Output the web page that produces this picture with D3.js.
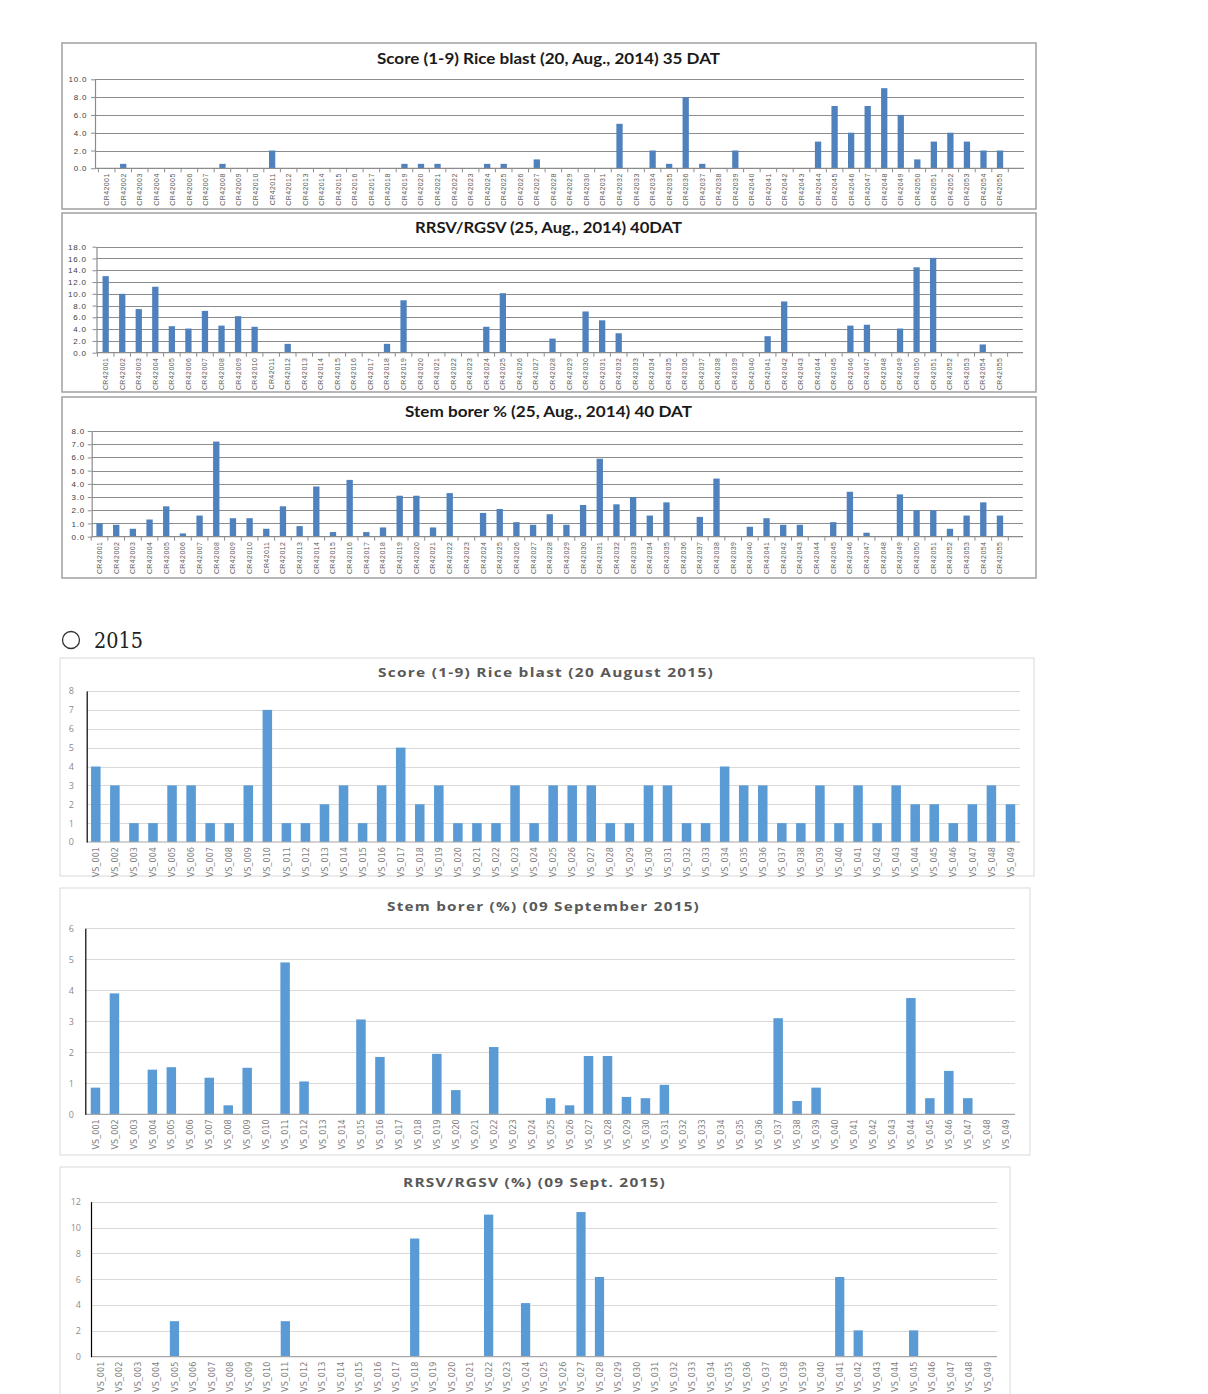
<!DOCTYPE html>
<html>
<head>
<meta charset="utf-8">
<script src="https://cdn.jsdelivr.net/npm/d3@7"></script>
<style>
  body { margin: 0; background: #fff; }
  svg { display: block; }
</style>
</head>
<body>
<script>
// ---- data: 2014 (CR42001..CR42055) ----
const cats2014 = [
  'CR42001','CR42002','CR42003','CR42004','CR42005','CR42006','CR42007','CR42008','CR42009','CR42010',
  'CR42011','CR42012','CR42013','CR42014','CR42015','CR42016','CR42017','CR42018','CR42019','CR42020',
  'CR42021','CR42022','CR42023','CR42024','CR42025','CR42026','CR42027','CR42028','CR42029','CR42030',
  'CR42031','CR42032','CR42033','CR42034','CR42035','CR42036','CR42037','CR42038','CR42039','CR42040',
  'CR42041','CR42042','CR42043','CR42044','CR42045','CR42046','CR42047','CR42048','CR42049','CR42050',
  'CR42051','CR42052','CR42053','CR42054','CR42055'
];
const blast2014 = [
  0, 0.5, 0, 0, 0, 0, 0, 0.5, 0, 0,
  2, 0, 0, 0, 0, 0, 0, 0, 0.5, 0.5,
  0.5, 0, 0, 0.5, 0.5, 0, 1, 0, 0, 0,
  0, 5, 0, 2, 0.5, 8, 0.5, 0, 2, 0,
  0, 0, 0, 3, 7, 4, 7, 9, 6, 1,
  3, 4, 3, 2, 2
];
const rrsv2014 = [
  13, 10, 7.4, 11.2, 4.5, 4.1, 7.1, 4.6, 6.2, 4.4,
  0, 1.5, 0, 0, 0, 0, 0, 1.5, 8.9, 0,
  0, 0, 0, 4.4, 10.1, 0, 0, 2.4, 0, 7.0,
  5.5, 3.3, 0, 0, 0, 0, 0, 0, 0, 0,
  2.8, 8.7, 0, 0, 0, 4.6, 4.75, 0, 4.1, 14.5,
  16.1, 0, 0, 1.4, 0
];
const borer2014 = [
  1.0, 0.9, 0.6, 1.3, 2.3, 0.25, 1.6, 7.2, 1.4, 1.4,
  0.6, 2.3, 0.8, 3.8, 0.35, 4.3, 0.35, 0.7, 3.1, 3.1,
  0.7, 3.3, 0, 1.8, 2.1, 1.1, 0.9, 1.7, 0.9, 2.4,
  5.9, 2.45, 3.0, 1.6, 2.6, 0, 1.5, 4.4, 0, 0.75,
  1.4, 0.9, 0.9, 0, 1.1, 3.4, 0.3, 0, 3.2, 2.0,
  2.0, 0.6, 1.6, 2.6, 1.6
];

// ---- data: 2015 (VS_001..VS_049) ----
const cats2015 = [
  'VS_001','VS_002','VS_003','VS_004','VS_005','VS_006','VS_007','VS_008','VS_009','VS_010',
  'VS_011','VS_012','VS_013','VS_014','VS_015','VS_016','VS_017','VS_018','VS_019','VS_020',
  'VS_021','VS_022','VS_023','VS_024','VS_025','VS_026','VS_027','VS_028','VS_029','VS_030',
  'VS_031','VS_032','VS_033','VS_034','VS_035','VS_036','VS_037','VS_038','VS_039','VS_040',
  'VS_041','VS_042','VS_043','VS_044','VS_045','VS_046','VS_047','VS_048','VS_049'
];
const blast2015 = [
  4, 3, 1, 1, 3, 3, 1, 1, 3, 7,
  1, 1, 2, 3, 1, 3, 5, 2, 3, 1,
  1, 1, 3, 1, 3, 3, 3, 1, 1, 3,
  3, 1, 1, 4, 3, 3, 1, 1, 3, 1,
  3, 1, 3, 2, 2, 1, 2, 3, 2
];
const borer2015 = [
  0.86, 3.9, 0, 1.44, 1.52, 0, 1.18, 0.29, 1.5, 0,
  4.9, 1.06, 0, 0, 3.06, 1.85, 0, 0, 1.95, 0.78,
  0, 2.17, 0, 0, 0.52, 0.29, 1.88, 1.88, 0.56, 0.52,
  0.95, 0, 0, 0, 0, 0, 3.1, 0.43, 0.86, 0,
  0, 0, 0, 3.75, 0.52, 1.4, 0.52, 0, 0
];
const rrsv2015 = [
  0, 0, 0, 0, 2.75, 0, 0, 0, 0, 0,
  2.75, 0, 0, 0, 0, 0, 0, 9.15, 0, 0,
  0, 11.0, 0, 4.15, 0, 0, 11.2, 6.17, 0, 0,
  0, 0, 0, 0, 0, 0, 0, 0, 0, 0,
  6.17, 2.04, 0, 0, 2.04, 0, 0, 0, 0
];

const svg = d3.select('body').append('svg')
  .attr('width', 1208)
  .attr('height', 1394);

// excel 2007 look for 2014, newer excel look for 2015
const style2014 = {
  bar: '#4f81bd', frame: '#a6a6a6', frameWidth: 1.6, grid: '#8c8c8c', base: '#8c8c8c',
  titleFont: 'Lato, "Open Sans", sans-serif', titleSize: 14.5, titleColor: '#1a1a1a', titleSpacing: 0,
  tickFont: '"Liberation Sans", Arial, sans-serif', tickSize: 8, tickColor: '#404040', tickSpacing: 0.8,
  xFont: '"Liberation Sans", Arial, sans-serif', xSize: 7, xColor: '#595959', xSpacing: 0.4,
  yAxisColor: '#8c8c8c', yTick: 4, pad: 0.62, catTicks: true
};
const style2015 = {
  bar: '#5b9bd5', frame: '#d9d9d9', frameWidth: 1, grid: '#d9d9d9', base: '#a6a6a6',
  titleFont: '"Open Sans", sans-serif', titleSize: 12.5, titleColor: '#595959', titleSpacing: 1,
  tickFont: '"Open Sans", sans-serif', tickSize: 9, tickColor: '#8c8c8c', tickSpacing: 0,
  xFont: '"Liberation Sans Narrow", "DejaVu Sans Condensed", sans-serif', xSize: 9, xColor: '#7f7f7f', xSpacing: 0,
  yAxisColor: '#000', yTick: 0, pad: 0.5, catTicks: false
};

const charts = [
  { cats: cats2014, values: blast2014, s: style2014,
    title: 'Score (1-9) Rice blast (20, Aug., 2014) 35 DAT', titleX: 548.5, titleY: 64, titleW: 343,
    box: [62, 43, 974, 166], x0: 98.4, x1: 1008.3, gridRight: 1024, axisX: 95,
    yBase: 168.3, yTop: 79.3, yMax: 10, yStep: 2, fmt: d3.format('.1f'), yLabelRight: 87.3 },
  { cats: cats2014, values: rrsv2014, s: style2014,
    title: 'RRSV/RGSV (25, Aug., 2014) 40DAT', titleX: 548.5, titleY: 233, titleW: 267,
    box: [62, 213, 974, 179], x0: 97.4, x1: 1007.6, gridRight: 1023, axisX: 96.5,
    yBase: 352.7, yTop: 246.7, yMax: 18, yStep: 2, fmt: d3.format('.1f'), yLabelRight: 86.7 },
  { cats: cats2014, values: borer2014, s: style2014,
    title: 'Stem borer % (25, Aug., 2014) 40 DAT', titleX: 548.5, titleY: 417, titleW: 287,
    box: [62, 397, 974, 181], x0: 91.2, x1: 1008.3, gridRight: 1023, axisX: 91.7,
    yBase: 536.7, yTop: 431, yMax: 8, yStep: 1, fmt: d3.format('.1f'), yLabelRight: 85 },
  { cats: cats2015, values: blast2015, s: style2015,
    title: 'Score (1-9) Rice blast (20 August 2015)', titleX: 546, titleY: 677, titleW: 336,
    box: [60, 658, 974, 218], x0: 86.3, x1: 1020, gridRight: 1020, axisX: 86.7,
    yBase: 842, yTop: 691, yMax: 8, yStep: 1, fmt: d3.format('d'), yLabelRight: 74 },
  { cats: cats2015, values: borer2015, s: style2015,
    title: 'Stem borer (%) (09 September 2015)', titleX: 543.5, titleY: 911, titleW: 313,
    box: [60, 888, 970, 267], x0: 86, x1: 1015.2, gridRight: 1015, axisX: 85.3,
    yBase: 1114.3, yTop: 928.3, yMax: 6, yStep: 1, fmt: d3.format('d'), yLabelRight: 74 },
  { cats: cats2015, values: rrsv2015, s: style2015,
    title: 'RRSV/RGSV (%) (09 Sept. 2015)', titleX: 534.5, titleY: 1187, titleW: 263,
    box: [60, 1167, 950, 240], x0: 91.3, x1: 996.8, gridRight: 997, axisX: 91,
    yBase: 1356.7, yTop: 1201.7, yMax: 12, yStep: 2, fmt: d3.format('d'), yLabelRight: 81 }
];

// "○ 2015" heading between the two groups
svg.append('circle')
  .attr('cx', 71).attr('cy', 640).attr('r', 8.5)
  .attr('fill', 'none').attr('stroke', '#333').attr('stroke-width', 1.3);
svg.append('text')
  .attr('x', 94).attr('y', 648)
  .attr('font-family', '"DejaVu Serif", "Liberation Serif", serif')
  .attr('font-size', 22)
  .attr('fill', '#222')
  .attr('textLength', 49)
  .attr('lengthAdjust', 'spacingAndGlyphs')
  .text('2015');

charts.forEach(drawChart);

function drawChart(c) {
  const s = c.s;
  const g = svg.append('g');

  const x = d3.scaleBand()
    .domain(c.cats)
    .range([c.x0, c.x1])
    .paddingInner(s.pad)
    .paddingOuter(s.pad / 2);
  const y = d3.scaleLinear()
    .domain([0, c.yMax])
    .range([c.yBase, c.yTop]);
  const ticks = d3.range(0, c.yMax + c.yStep / 2, c.yStep);

  // chart frame
  g.append('rect')
    .attr('x', c.box[0]).attr('y', c.box[1])
    .attr('width', c.box[2]).attr('height', c.box[3])
    .attr('fill', '#fff')
    .attr('stroke', s.frame)
    .attr('stroke-width', s.frameWidth);

  g.append('text')
    .attr('x', c.titleX).attr('y', c.titleY)
    .attr('text-anchor', 'middle')
    .attr('font-family', s.titleFont)
    .attr('font-weight', 'bold')
    .attr('font-size', s.titleSize)
    .attr('letter-spacing', s.titleSpacing)
    .attr('fill', s.titleColor)
    .attr('textLength', c.titleW)
    .attr('lengthAdjust', 'spacingAndGlyphs')
    .text(c.title);

  // horizontal gridlines
  g.append('g')
    .selectAll('line')
    .data(ticks.filter(t => t > 0))
    .join('line')
    .attr('x1', c.axisX).attr('x2', c.gridRight)
    .attr('y1', d => Math.round(y(d)) + 0.5)
    .attr('y2', d => Math.round(y(d)) + 0.5)
    .attr('stroke', s.grid)
    .attr('stroke-width', 1);

  // bars
  g.append('g')
    .selectAll('rect')
    .data(c.values)
    .join('rect')
    .attr('x', (d, i) => x(c.cats[i]))
    .attr('width', x.bandwidth())
    .attr('y', d => y(d))
    .attr('height', d => y(0) - y(d))
    .attr('fill', s.bar);

  // baseline
  g.append('line')
    .attr('x1', c.axisX).attr('x2', c.gridRight)
    .attr('y1', c.yBase).attr('y2', c.yBase)
    .attr('stroke', s.base)
    .attr('stroke-width', 1.2);

  // small marks between categories (2014 only)
  if (s.catTicks) {
    g.append('g')
      .selectAll('line')
      .data(d3.range(c.cats.length + 1))
      .join('line')
      .attr('x1', i => c.x0 + i * x.step())
      .attr('x2', i => c.x0 + i * x.step())
      .attr('y1', c.yBase).attr('y2', c.yBase + 4)
      .attr('stroke', s.base);
  }

  // y axis
  const yAxis = d3.axisLeft(y)
    .tickValues(ticks)
    .tickFormat(c.fmt)
    .tickSizeInner(s.yTick)
    .tickSizeOuter(0)
    .tickPadding(c.axisX - c.yLabelRight - s.yTick);
  const ya = g.append('g')
    .attr('transform', `translate(${c.axisX},0)`)
    .call(yAxis);
  ya.select('.domain').attr('stroke', s.yAxisColor).attr('stroke-width', 1.2);
  ya.selectAll('.tick line').attr('stroke', s.yAxisColor);
  ya.selectAll('.tick text')
    .attr('font-family', s.tickFont)
    .attr('font-size', s.tickSize)
    .attr('letter-spacing', s.tickSpacing)
    .attr('fill', s.tickColor);

  // x axis with rotated category labels
  const xAxis = d3.axisBottom(x).tickSize(0);
  const xa = g.append('g')
    .attr('transform', `translate(0,${c.yBase})`)
    .call(xAxis);
  xa.select('.domain').remove();
  xa.selectAll('.tick text')
    .attr('transform', 'rotate(-90)')
    .attr('text-anchor', 'end')
    .attr('x', -5)
    .attr('y', 0)
    .attr('dy', '0.35em')
    .attr('font-family', s.xFont)
    .attr('font-size', s.xSize)
    .attr('letter-spacing', s.xSpacing)
    .attr('fill', s.xColor);
}
</script>
</body>
</html>
